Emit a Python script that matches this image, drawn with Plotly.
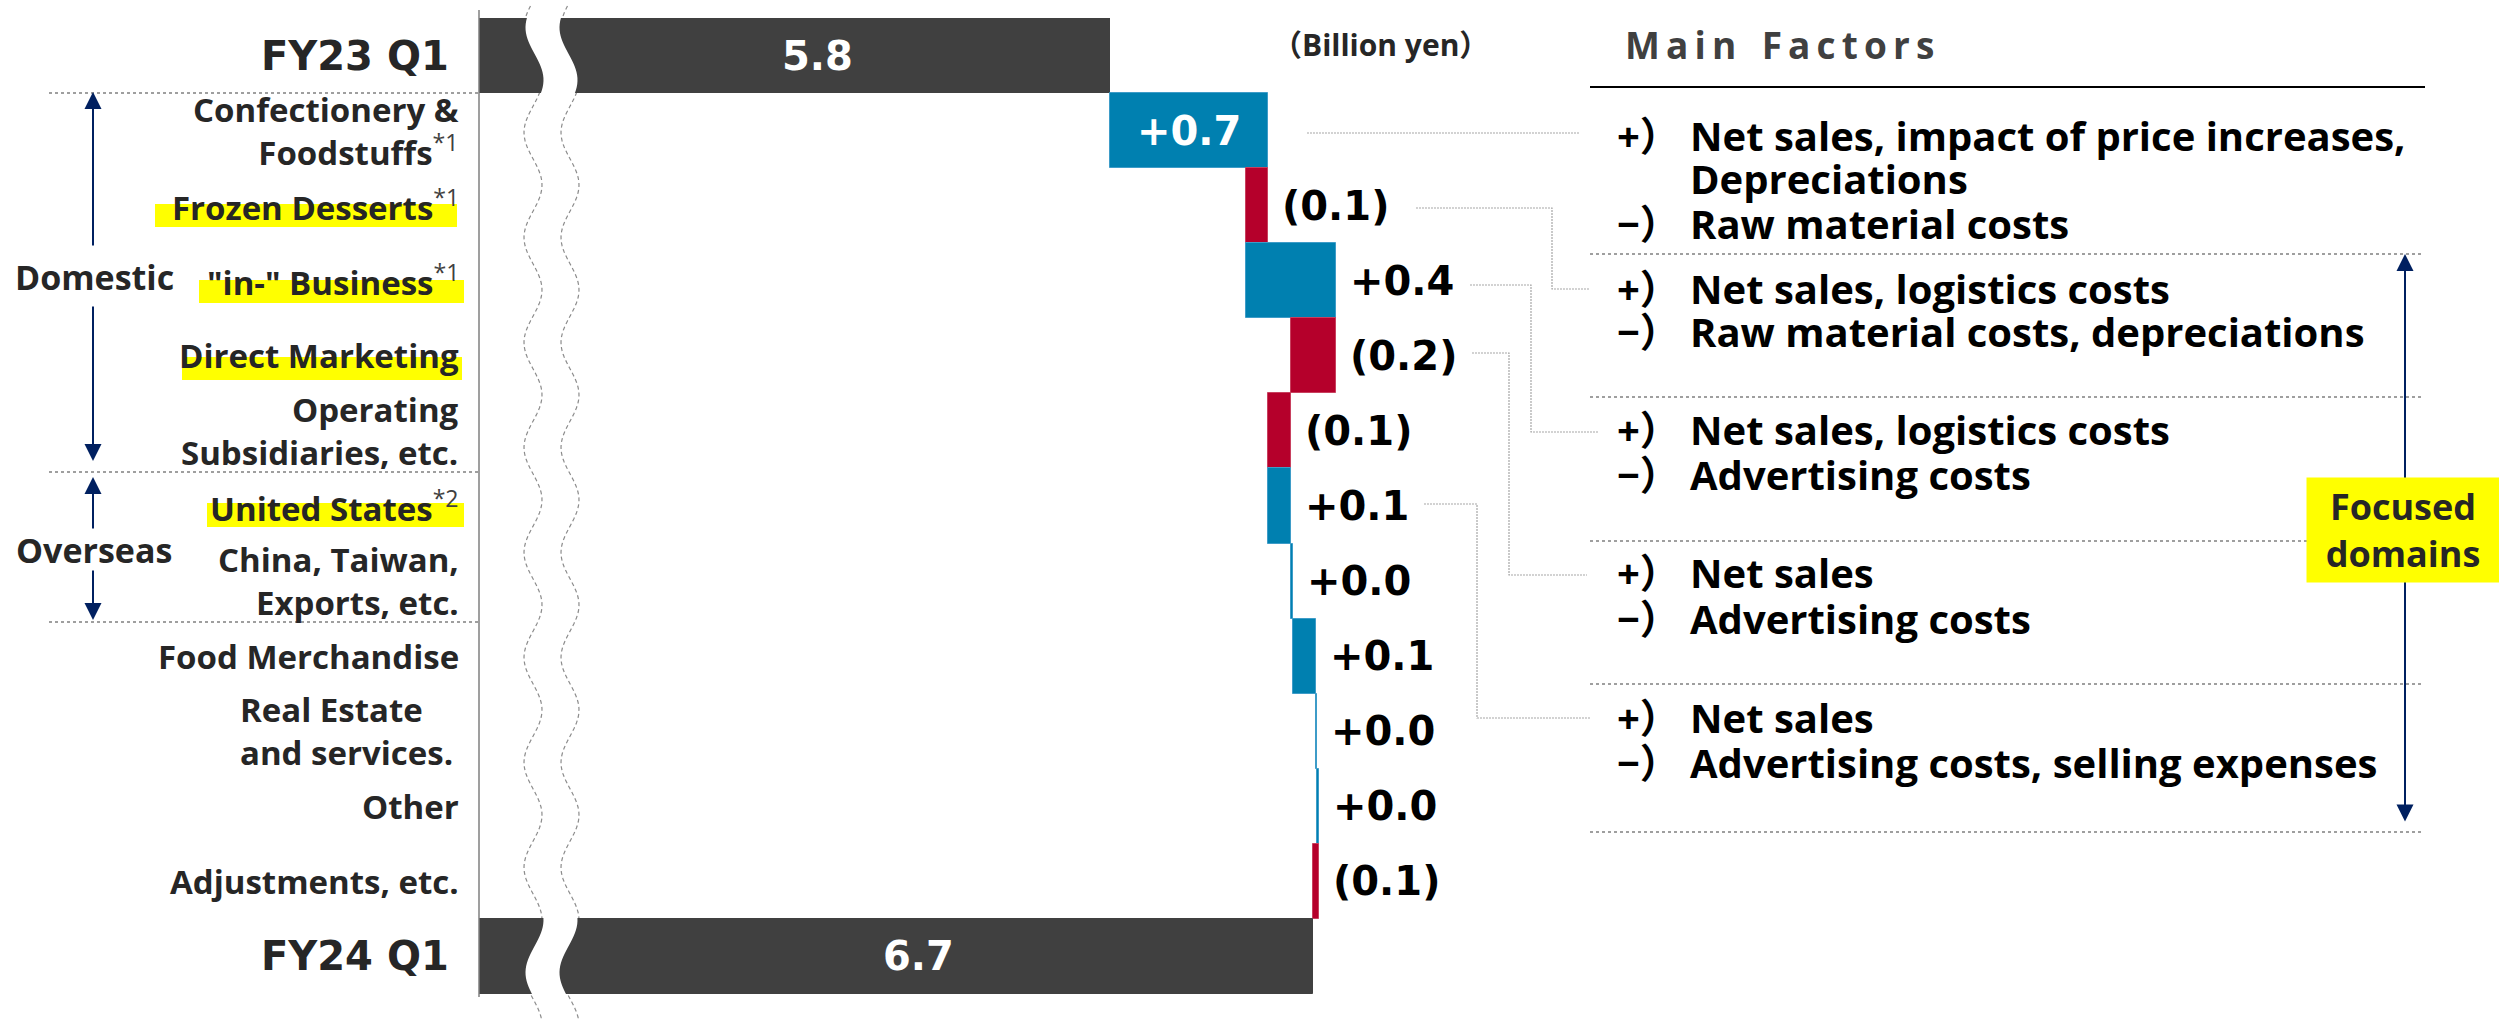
import numpy as np
import plotly.graph_objects as go

# ---------------- data ----------------
categories = ["FY23 Q1", "Confectionery & Foodstuffs", "Frozen Desserts", '"in-" Business',
              "Direct Marketing", "Operating Subsidiaries, etc.", "United States",
              "China, Taiwan, Exports, etc.", "Food Merchandise", "Real Estate and services.",
              "Other", "Adjustments, etc.", "FY24 Q1"]
row_labels = ["FY23 Q1", "Confectionery &<br>Foodstuffs", "Frozen Desserts", '"in-" Business',
              "Direct Marketing", "Operating<br>Subsidiaries, etc.", "United States",
              "China, Taiwan,<br>Exports, etc.", "Food Merchandise", "Real Estate<br>and services.",
              "Other", "Adjustments, etc.", "FY24 Q1"]
footnotes = ["", "*1", "*1", "*1", "", "", "*2", "", "", "", "", "", ""]
highlighted = [False, False, True, True, True, False, True, False, False, False, False, False, False]
start_total = 5.8
end_total = 6.7
changes = [0.7, -0.1, 0.4, -0.2, -0.1, 0.1, 0.01, 0.1, 0.007, 0.007, -0.026]
value_labels = ["5.8", "+0.7", "(0.1)", "+0.4", "(0.2)", "(0.1)", "+0.1", "+0.0", "+0.1",
                "+0.0", "+0.0", "(0.1)", "6.7"]
axis_min = 3.0
unit_label = "（Billion yen）"
factor_title = "Main Factors"
factor_blocks = [
    [("+", "Net sales, impact of price increases,"), ("", "Depreciations"), ("−", "Raw material costs")],
    [("+", "Net sales, logistics costs"), ("−", "Raw material costs, depreciations")],
    [("+", "Net sales, logistics costs"), ("−", "Advertising costs")],
    [("+", "Net sales"), ("−", "Advertising costs")],
    [("+", "Net sales"), ("−", "Advertising costs, selling expenses")],
]
group_labels = ["Domestic", "Overseas"]
focus_label = "Focused<br>domains"

# ---------------- geometry ----------------
W, H = 2499, 1020
L, T = 479, 18
PW, PH = W - L, 976
B = H - T - PH
PX_PER_UNIT = 225.5


def px2x(px):
    return (px - L) / PW


def py2y(py):
    return (T + PH - py) / PH


DARK = "#404040"
BLUE = "#0080B0"
RED = "#B5002B"
TXT = "#262626"
NAVY = "#002060"
WORD_FONT = "Open Sans, Noto Sans CJK JP, sans-serif"
NUM_FONT = "DejaVu Sans, sans-serif"

# waterfall bases
bases, widths, colors, lines = [0.0], [start_total], [DARK], [DARK]
cum = start_total
for c in changes:
    bases.append(min(cum, cum + c))
    widths.append(abs(c))
    colors.append(BLUE if c >= 0 else RED)
    lines.append("#3E9CC8" if c >= 0 else "#C8405E")
    cum += c
bases.append(0.0)
widths.append(end_total)
colors.append(DARK)
lines.append(DARK)

fig = go.Figure()
fig.add_trace(go.Bar(
    y=categories, x=widths, base=bases, orientation="h",
    marker=dict(color=colors, line=dict(color=lines, width=1)),
    hoverinfo="skip", showlegend=False,
))

annotations = []
shapes = []

# value labels
for i, (b, w, lab) in enumerate(zip(bases, widths, value_labels)):
    if i == 0 or i == len(bases) - 1:
        annotations.append(dict(x=(axis_min + b + w) / 2 + 0.1, y=categories[i], xref="x", yref="y",
                                text=lab, showarrow=False, xanchor="center", yanchor="middle",
                                font=dict(family=NUM_FONT, size=40, color="white", weight="bold")))
    elif w * PX_PER_UNIT > 130:
        annotations.append(dict(x=b + w / 2, y=categories[i], xref="x", yref="y",
                                text=lab, showarrow=False, xanchor="center", yanchor="middle",
                                font=dict(family=NUM_FONT, size=40, color="white", weight="bold")))
    else:
        annotations.append(dict(x=b + w, y=categories[i], xref="x", yref="y", xshift=12,
                                text=lab, showarrow=False, xanchor="left", yanchor="middle",
                                font=dict(family=NUM_FONT, size=40, color="black", weight="bold")))

# highlight rectangles (decoration behind the labels)
hl_boxes = {2: (155, 457, 204, 227), 3: (199, 464, 280, 303), 4: (182, 462, 357, 380), 6: (207, 464, 503, 527)}
for i, flag in enumerate(highlighted):
    if flag:
        x0, x1, y0, y1 = hl_boxes[i]
        shapes.append(dict(type="rect", xref="paper", yref="paper", x0=px2x(x0), x1=px2x(x1),
                           y0=py2y(y1), y1=py2y(y0), fillcolor="#FFFF00", line=dict(width=0), layer="below"))

# row labels
for i, (lab, fn) in enumerate(zip(row_labels, footnotes)):
    if i == 0 or i == len(row_labels) - 1:
        annotations.append(dict(x=px2x(451), y=categories[i], xref="paper", yref="y", text=lab,
                                showarrow=False, xanchor="right", yanchor="middle",
                                font=dict(family=NUM_FONT, size=40, color=TXT, weight="bold")))
        continue
    text = lab
    if fn:
        text += "<sup><span style='font-weight:normal;color:#404040'>" + fn + "</span></sup>"
    xr = 455 if lab.startswith("Real") else 461
    annotations.append(dict(x=px2x(xr), y=categories[i], xref="paper", yref="y", text=text,
                            showarrow=False, xanchor="right", yanchor="middle",
                            align="left" if lab.startswith("Real") else "right",
                            font=dict(family=WORD_FONT, size=33, color=TXT, weight="bold")))

# group labels and arrows
for g, yc in zip(group_labels, [277, 550]):
    annotations.append(dict(x=px2x(94), y=py2y(yc), xref="paper", yref="paper", text=g,
                            showarrow=False, xanchor="center", yanchor="middle",
                            font=dict(family=WORD_FONT, size=34, color=TXT, weight="bold")))


def arrow(xt, yt, xs, ys, side="end", width=2):
    return dict(x=px2x(xt), y=py2y(yt), xref="paper", yref="paper", ax=xs - xt, ay=ys - yt,
                axref="pixel", ayref="pixel", text="", showarrow=True, arrowhead=2, arrowsize=1.7,
                arrowwidth=width, arrowcolor=NAVY, arrowside=side, startarrowhead=2, startarrowsize=1.7,
                standoff=0, startstandoff=0)


annotations += [arrow(93, 92, 93, 247), arrow(93, 461, 93, 305),
                arrow(93, 477, 93, 530), arrow(93, 620, 93, 569)]

# left dotted separators
for yy in [93, 472, 622]:
    shapes.append(dict(type="line", xref="paper", yref="paper", x0=px2x(49), x1=px2x(478),
                       y0=py2y(yy), y1=py2y(yy), line=dict(color="#808080", width=1.5, dash="dot")))

# axis line
shapes.append(dict(type="line", xref="paper", yref="paper", x0=px2x(479), x1=px2x(479),
                   y0=py2y(10), y1=py2y(997), line=dict(color="#7F7F7F", width=1.5)))

# axis break (wavy band)
ys = np.arange(6, 1022, 3.0)
lx = 533 + 9 * np.cos(2 * np.pi * (ys - 80) / 105)
rx = lx + 37


def poly(xs, yv):
    return "M " + " L ".join(f"{px2x(a):.5f},{py2y(b):.5f}" for a, b in zip(xs, yv))


fill_path = poly(np.concatenate([lx + 1.5, (rx - 1.5)[::-1]]), np.concatenate([ys, ys[::-1]])) + " Z"
shapes.append(dict(type="path", xref="paper", yref="paper", path=fill_path, fillcolor="white",
                   line=dict(width=0), layer="above"))
for xs in (lx, rx):
    shapes.append(dict(type="path", xref="paper", yref="paper", path=poly(xs, ys),
                       line=dict(color="#8C8C8C", width=1.2, dash="4px,3px"), layer="below"))

# header texts
annotations.append(dict(x=px2x(1380), y=py2y(45), xref="paper", yref="paper", text=unit_label,
                        showarrow=False, xanchor="center", yanchor="middle",
                        font=dict(family=WORD_FONT, size=30, color=TXT, weight="bold")))
spaced_title = " \u2009 ".join("\u2009".join(word) for word in factor_title.split())
annotations.append(dict(x=px2x(1623), y=py2y(45), xref="paper", yref="paper", text=spaced_title,
                        showarrow=False, xanchor="left", yanchor="middle",
                        font=dict(family=WORD_FONT, size=37, color=DARK, weight="bold")))
shapes.append(dict(type="line", xref="paper", yref="paper", x0=px2x(1590), x1=px2x(2425),
                   y0=py2y(87), y1=py2y(87), line=dict(color="black", width=2)))
for yy in [254, 397, 541, 684, 832]:
    shapes.append(dict(type="line", xref="paper", yref="paper", x0=px2x(1590), x1=px2x(2424),
                       y0=py2y(yy), y1=py2y(yy), line=dict(color="#808080", width=1.5, dash="dot")))

# factor texts
line_y = [[135.5, 178.5, 223], [288.5, 331.5], [430, 475], [572, 618.5], [717, 762]]
for block, yl in zip(factor_blocks, line_y):
    for (sign, txt), yy in zip(block, yl):
        if sign:
            annotations.append(dict(x=px2x(1615), y=py2y(yy), xref="paper", yref="paper",
                                    text=sign + "）", showarrow=False, xanchor="left", yanchor="middle",
                                    font=dict(family=WORD_FONT, size=40, color="black", weight="bold")))
        annotations.append(dict(x=px2x(1688), y=py2y(yy), xref="paper", yref="paper", text=txt,
                                showarrow=False, xanchor="left", yanchor="middle",
                                font=dict(family=WORD_FONT, size=40, color="black", weight="bold")))

# connectors from value labels to factor blocks
connectors = [
    [(1307, 133), (1580, 133)],
    [(1416, 208), (1552, 208), (1552, 289), (1590, 289)],
    [(1470, 285), (1531, 285), (1531, 432), (1598, 432)],
    [(1472, 353), (1509, 353), (1509, 575), (1587, 575)],
    [(1424, 504), (1477, 504), (1477, 718), (1590, 718)],
]
for pts in connectors:
    shapes.append(dict(type="path", xref="paper", yref="paper",
                       path=poly([p[0] for p in pts], [p[1] for p in pts]),
                       line=dict(color="#A6A6A6", width=1.2, dash="2px,1px")))

# focused domains arrow + box
annotations.append(arrow(2405, 254, 2405, 823, side="end+start", width=2))
annotations.append(dict(x=px2x(2403), y=py2y(530), xref="paper", yref="paper", text=focus_label,
                        showarrow=False, xanchor="center", yanchor="middle", width=192, height=104,
                        bgcolor="#FFFF00", borderpad=0,
                        font=dict(family=WORD_FONT, size=36, color=TXT, weight="bold")))

fig.update_layout(
    width=W, height=H, margin=dict(l=L, r=0, t=T, b=B),
    paper_bgcolor="white", plot_bgcolor="rgba(0,0,0,0)",
    bargap=0, showlegend=False,
    xaxis=dict(range=[axis_min, axis_min + PW / PX_PER_UNIT], visible=False, fixedrange=True),
    yaxis=dict(type="category", categoryorder="array", categoryarray=categories,
               range=[len(categories) - 0.5, -0.5], visible=False, fixedrange=True),
    annotations=annotations, shapes=shapes,
)

fig.write_html("out.html")
